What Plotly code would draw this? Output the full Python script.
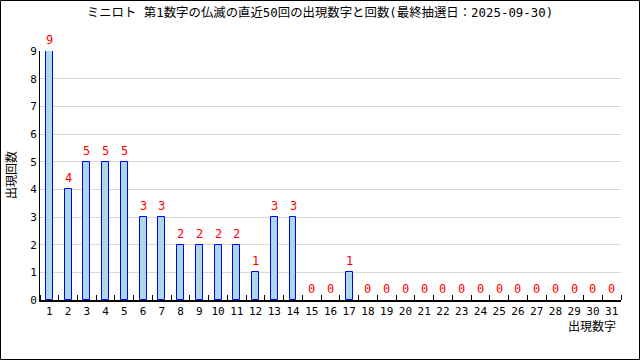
import plotly.graph_objects as go

numbers = list(range(1, 32))
counts = [9, 4, 5, 5, 5, 3, 3, 2, 2, 2, 2, 1, 3, 3, 0, 0, 1,
          0, 0, 0, 0, 0, 0, 0, 0, 0, 0, 0, 0, 0, 0]
title = "ミニロト 第1数字の仏滅の直近50回の出現数字と回数(最終抽選日：2025-09-30)"
x_title = "出現数字"
y_title = "出現回数"

FONT = "Noto Sans CJK JP"
MONO = "DejaVu Sans Mono, Noto Sans CJK JP"

bar_vals = [c if c > 0 else None for c in counts]

fig = go.Figure()
fig.add_trace(go.Bar(
    x=numbers, y=bar_vals, width=0.37,
    marker=dict(color="#add8e6", line=dict(color="#0000ff", width=1)),
    cliponaxis=False, hoverinfo="skip",
))
for n, c in zip(numbers, counts):
    fig.add_annotation(x=n, y=c, text=str(c), showarrow=False, yshift=11,
                       xanchor="center", yanchor="middle",
                       font=dict(color="#ff0000", size=12, family=MONO))

W, H = 640, 360
L, R, T, B = 40, 19, 51, 60
pw, ph = W - L - R, H - T - B

fig.update_layout(
    width=W, height=H,
    margin=dict(l=L, r=R, t=T, b=B),
    plot_bgcolor="white", paper_bgcolor="white",
    showlegend=False,
    font=dict(family=MONO, size=11, color="#000"),
    title=dict(text=title, x=0.5, xanchor="center", y=1 - 13 / H, yanchor="middle",
               font=dict(size=12.4, family=MONO, color="#000")),
    xaxis=dict(range=[0.5, 31.5], tickvals=numbers, ticktext=[str(n) for n in numbers],
               ticks="", showgrid=False, showline=True, linecolor="#000", linewidth=2,
               tickfont=dict(size=11), zeroline=False, fixedrange=True,
               minor=dict(tick0=0.5, dtick=1, ticks="inside", ticklen=5, tickcolor="#000", showgrid=False)),
    yaxis=dict(range=[0, 9], dtick=1, showgrid=True, gridcolor="#d9d9d9", gridwidth=1,
               showline=True, linecolor="#000", linewidth=1, ticks="", zeroline=False,
               tickfont=dict(size=11), fixedrange=True),
    bargap=0,
)

fig.add_annotation(text=x_title, xref="paper", yref="paper",
                   x=(618 - L) / pw, y=(H - B - 325) / ph, xanchor="right", yanchor="middle",
                   showarrow=False, font=dict(size=12, family=FONT))
fig.add_annotation(text=y_title, xref="paper", yref="paper",
                   x=(10 - L) / pw, y=(H - B - 175) / ph, xanchor="center", yanchor="middle",
                   textangle=-90, showarrow=False, font=dict(size=12, family=FONT))

# outer frame
fig.add_shape(type="rect", xref="paper", yref="paper",
              x0=(0.5 - L) / pw, x1=(W - 0.5 - L) / pw,
              y0=(H - B - (H - 0.5)) / ph, y1=(H - B - 0.5) / ph,
              line=dict(color="#000", width=1), layer="above")

fig.write_html("out.html")
